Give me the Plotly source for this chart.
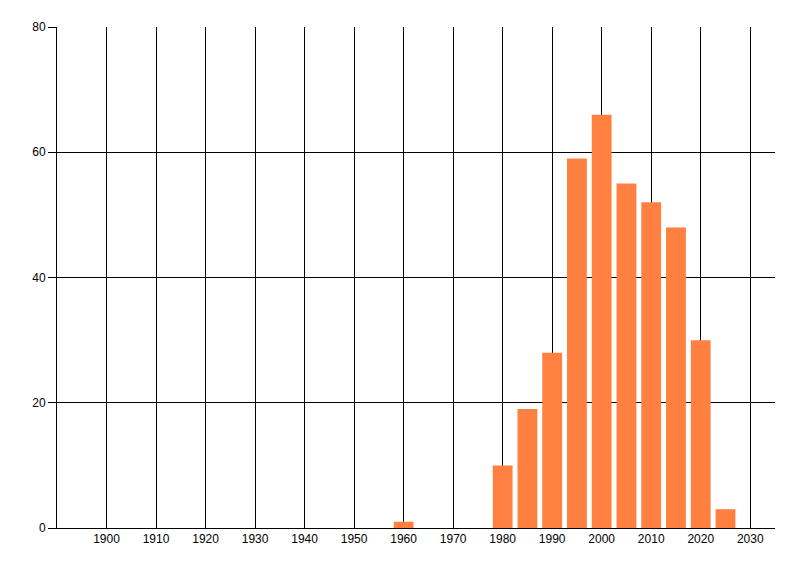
import plotly.graph_objects as go

# counts per 5-year bucket
years = [1960, 1980, 1985, 1990, 1995, 2000, 2005, 2010, 2015, 2020, 2025]
counts = [1, 10, 19, 28, 59, 66, 55, 52, 48, 30, 3]
x_ticks = list(range(1900, 2031, 10))
y_ticks = [0, 20, 40, 60, 80]

fig = go.Figure()
fig.add_trace(go.Bar(x=years, y=counts, width=4, marker_color='#FF8040',
                     marker_line_width=0))

# page body has an 8px margin, so shift the plot area back by that
fig.update_layout(
    width=800, height=576,
    margin=dict(l=49, r=33, t=19, b=56),
    plot_bgcolor='white', paper_bgcolor='white',
    font=dict(family='Liberation Sans', size=12, color='black'),
    showlegend=False,
)
fig.update_xaxes(range=[1890, 2035], tickvals=x_ticks, showgrid=True,
                 gridcolor='black', gridwidth=1, showline=True, linecolor='black',
                 linewidth=1, ticks='', zeroline=False)
fig.update_yaxes(range=[0, 80], tickvals=y_ticks, showgrid=True,
                 gridcolor='black', gridwidth=1, showline=True, linecolor='black',
                 linewidth=1, ticks='outside', ticklen=8, tickcolor='black',
                 zeroline=False)

fig.write_html("out.html")
